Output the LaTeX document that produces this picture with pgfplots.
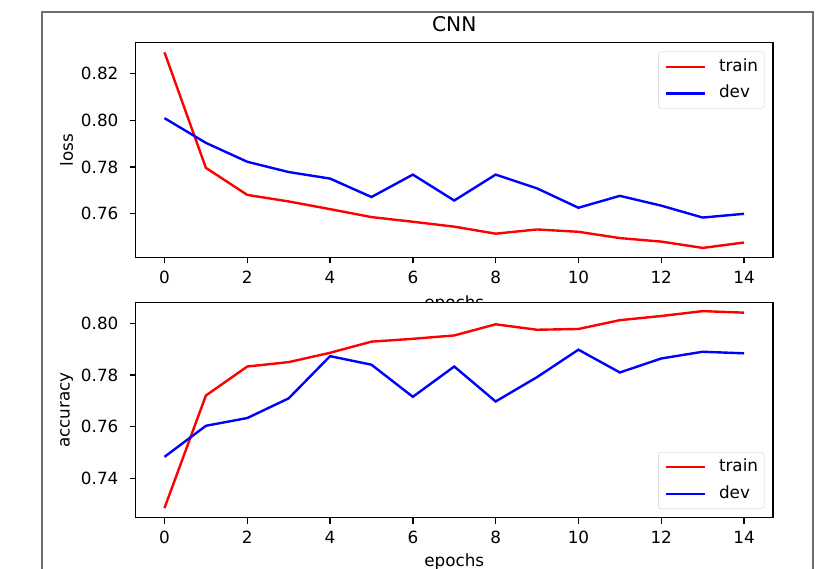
\documentclass[border=0pt]{standalone}
\usepackage{fontspec}
\setmainfont{DejaVu Sans}
\usepackage{pgfplots}
\pgfplotsset{compat=1.18}
\definecolor{framegray}{RGB}{110,110,110}
\definecolor{leggray}{RGB}{204,204,204}
\pgfplotsset{
  cnnstyle/.style={
    scale only axis,
    width=637.5pt,
    xmin=-0.7, xmax=14.7,
    xtick={0,2,4,6,8,10,12,14},
    tick pos=left,
    tick align=outside,
    major tick length=5.8pt,
    tick style={black, line width=1.3pt},
    axis line style={line width=1.5pt},
    every axis plot/.append style={line width=2.4pt},
    /pgf/number format/assume math mode=true,
    yticklabel style={xshift=-5.5pt, /pgf/number format/.cd, fixed, fixed zerofill, precision=2},
    xticklabel style={yshift=-1.5pt},
    xlabel={epochs},
    legend cell align=left,
    legend image code/.code={\draw[#1, line width=2.6pt] (0pt,0pt) -- (39pt,0pt);},
    legend style={draw=leggray, rounded corners=3pt, fill=white, fill opacity=0.8, text opacity=1,
      inner xsep=6pt, inner ysep=7pt, row sep=10.8pt,
      nodes={inner sep=0pt, text height=12.3pt, text depth=3.6pt},
      /tikz/every odd column/.append style={column sep=13pt},
      font=\fontsize{16.8}{20}\selectfont},
  }
}
\begin{document}
\fontsize{16.8}{20}\selectfont
\begin{tikzpicture}
\path[use as bounding box] (0pt,0pt) rectangle (835pt,-568pt);
\clip (0pt,0pt) rectangle (835pt,-568pt);
\fill[white] (0pt,0pt) rectangle (835pt,-568pt);
\draw[line width=2pt, framegray] (42.3pt,-12.3pt) rectangle (812.7pt,-620pt);

\begin{axis}[cnnstyle,
  at={(135.5pt,-42.5pt)}, anchor=north west,
  height=215.2pt,
  ymin=0.7412, ymax=0.8334,
  ytick={0.76,0.78,0.80,0.82},
  title={CNN},
  title style={font=\fontsize{20.2}{24}\selectfont, at={(axis description cs:0.5,1)}, anchor=base, yshift=5pt},
  ylabel={loss},
  ylabel style={at={(axis description cs:-0.108,0.5)}, anchor=center},
  xlabel style={at={(axis description cs:0.5,-0.238)}, anchor=base},
  legend style={at={(axis description cs:1,1)}, anchor=north east, xshift=-8.7pt, yshift=-9.2pt},
]
\addplot[red] coordinates {
(0,0.8292) (1,0.7797) (2,0.7681) (3,0.7653) (4,0.7620) (5,0.7586) (6,0.7566) (7,0.7545)
(8,0.7515) (9,0.7533) (10,0.7523) (11,0.7496) (12,0.7481) (13,0.7454) (14,0.7477)};
\addlegendentry{train}
\addplot[blue] coordinates {
(0,0.8010) (1,0.7904) (2,0.7823) (3,0.7779) (4,0.7751) (5,0.7672) (6,0.7768) (7,0.7657)
(8,0.7768) (9,0.7709) (10,0.7626) (11,0.7677) (12,0.7635) (13,0.7584) (14,0.7600)};
\addlegendentry{dev}
\end{axis}

\begin{axis}[cnnstyle,
  at={(135.5pt,-302.3pt)}, anchor=north west,
  height=215.4pt,
  ymin=0.7249, ymax=0.8081,
  ytick={0.74,0.76,0.78,0.80},
  axis background/.style={fill=white},
  ylabel={accuracy},
  ylabel style={at={(axis description cs:-0.108,0.5)}, anchor=center},
  xlabel style={at={(axis description cs:0.5,-0.2285)}, anchor=base},
  legend style={at={(axis description cs:1,0)}, anchor=south east, xshift=-8.7pt, yshift=8.7pt},
]
\addplot[red] coordinates {
(0,0.7286) (1,0.7721) (2,0.7833) (3,0.7850) (4,0.7886) (5,0.7929) (6,0.7940) (7,0.7953)
(8,0.7996) (9,0.7975) (10,0.7978) (11,0.8012) (12,0.8028) (13,0.8047) (14,0.8041)};
\addlegendentry{train}
\addplot[blue] coordinates {
(0,0.7484) (1,0.7604) (2,0.7634) (3,0.7710) (4,0.7873) (5,0.7840) (6,0.7716) (7,0.7833)
(8,0.7698) (9,0.7792) (10,0.7898) (11,0.7810) (12,0.7864) (13,0.7890) (14,0.7884)};
\addlegendentry{dev}
\end{axis}
\end{tikzpicture}
\end{document}
